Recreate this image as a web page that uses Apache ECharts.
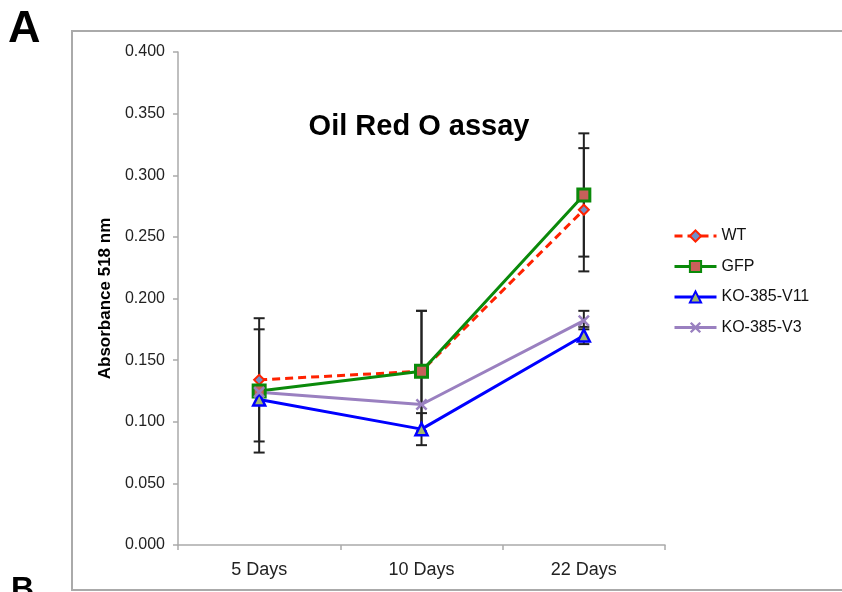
<!DOCTYPE html>
<html>
<head>
<meta charset="utf-8">
<script src="https://cdn.jsdelivr.net/npm/echarts@6/dist/echarts.min.js"></script>
<style>html,body{margin:0;padding:0;background:#fff;}#c{width:842px;height:592px;}</style>
</head>
<body>
<div id="c"></div>
<script>
var categories = ['5 Days', '10 Days', '22 Days'];
var seriesNames = ['WT', 'GFP', 'KO-385-V11', 'KO-385-V3'];
var wtValues = [0.134, 0.141, 0.272];
var gfpValues = [0.125, 0.141, 0.284];
var v11Values = [0.118, 0.094, 0.170];
var v3Values = [0.124, 0.114, 0.182];
// error bars: [categoryIndex, low, high]
var wtErr = [[0, 0.084, 0.184], [1, 0.092, 0.190], [2, 0.222, 0.322]];
var gfpErr = [[0, 0.075, 0.175], [1, 0.092, 0.190], [2, 0.234, 0.334]];
var v11Err = [[1, 0.081, 0.107], [2, 0.163, 0.177]];
var v3Err = [[2, 0.175, 0.190]];
var yTicks = [0, 0.05, 0.1, 0.15, 0.2, 0.25, 0.3, 0.35, 0.4];

var FONT = 'Liberation Sans, Arial, sans-serif';
var chart = echarts.init(document.getElementById('c'));

function errSeries(data) {
  return {
    type: 'custom',
    silent: true,
    z: 1,
    data: data,
    encode: {x: 0, y: [1, 2]},
    renderItem: function (params, api) {
      var x = api.value(0);
      var lo = api.coord([x, api.value(1)]);
      var hi = api.coord([x, api.value(2)]);
      var hw = 5.5;
      var st = {stroke: '#222', lineWidth: 2};
      return {
        type: 'group',
        children: [
          {type: 'line', shape: {x1: lo[0], y1: lo[1], x2: hi[0], y2: hi[1]}, style: st},
          {type: 'line', shape: {x1: lo[0] - hw, y1: lo[1], x2: lo[0] + hw, y2: lo[1]}, style: st},
          {type: 'line', shape: {x1: hi[0] - hw, y1: hi[1], x2: hi[0] + hw, y2: hi[1]}, style: st}
        ]
      };
    }
  };
}

var xPath = 'path://M0,1.5 L1.5,0 L5,3.5 L8.5,0 L10,1.5 L6.5,5 L10,8.5 L8.5,10 L5,6.5 L1.5,10 L0,8.5 L3.5,5 Z';

var option = {
  animation: false,
  backgroundColor: '#fff',
  title: {
    text: 'Oil Red O assay',
    left: 414, top: 107, textAlign: 'center',
    textStyle: {fontFamily: FONT, fontWeight: 'bold', fontSize: 29, color: '#000'}
  },
  legend: {
    orient: 'vertical',
    left: 668, top: 223,
    itemWidth: 42, itemHeight: 14, itemGap: 14.5,
    lineStyle: {width: 3},
    data: seriesNames,
    textStyle: {fontFamily: FONT, fontSize: 16, color: '#111'}
  },
  grid: {left: 178, right: 177, top: 52, bottom: 47, containLabel: false},
  xAxis: {
    type: 'category',
    data: categories,
    boundaryGap: true,
    axisLine: {lineStyle: {color: '#aaa', width: 1.5}},
    axisTick: {show: true, length: 5, lineStyle: {color: '#aaa', width: 1.5}},
    axisLabel: {fontFamily: FONT, fontSize: 18, color: '#222', margin: 16},
    splitLine: {show: false}
  },
  yAxis: {
    type: 'value',
    min: 0, max: 0.4, interval: 0.05,
    name: 'Absorbance 518 nm',
    nameLocation: 'middle', nameRotate: 90, nameGap: 56,
    nameTextStyle: {fontFamily: FONT, fontWeight: 'bold', fontSize: 17, color: '#000'},
    axisLine: {show: true, lineStyle: {color: '#aaa', width: 1.5}},
    axisTick: {show: true, length: 5, lineStyle: {color: '#aaa', width: 1.5}},
    axisLabel: {fontFamily: FONT, fontSize: 16, color: '#222', margin: 13,
      formatter: function (v) { return v.toFixed(3); }},
    splitLine: {show: false}
  },
  graphic: [
    {type: 'rect', shape: {x: 72, y: 31, width: 800, height: 559}, style: {fill: 'none', stroke: '#aaa', lineWidth: 2}, z: -10},
    {type: 'text', left: 8, top: 7, style: {text: 'A', font: 'bold 45px ' + FONT, fill: '#000'}},
    {type: 'text', left: 11, top: 574, style: {text: 'B', font: 'bold 32px ' + FONT, fill: '#000'}}
  ],
  series: [
    errSeries(wtErr), errSeries(gfpErr), errSeries(v11Err), errSeries(v3Err),
    {
      name: 'WT', type: 'line', data: wtValues, z: 3,
      symbol: 'diamond', symbolSize: 10,
      lineStyle: {color: '#ff2200', width: 3, type: [8, 5]},
      itemStyle: {color: '#6f8fc8', borderColor: '#ff2200', borderWidth: 2}
    },
    {
      name: 'GFP', type: 'line', data: gfpValues, z: 4,
      symbol: 'rect', symbolSize: 12,
      lineStyle: {color: '#0a8a0a', width: 3},
      itemStyle: {color: '#c8605a', borderColor: '#0a8a0a', borderWidth: 3}
    },
    {
      name: 'KO-385-V11', type: 'line', data: v11Values, z: 4,
      symbol: 'triangle', symbolSize: 12,
      lineStyle: {color: '#0000ff', width: 3},
      itemStyle: {color: '#a3b96a', borderColor: '#0000ff', borderWidth: 2.5}
    },
    {
      name: 'KO-385-V3', type: 'line', data: v3Values, z: 4,
      symbol: xPath, symbolSize: 12,
      lineStyle: {color: '#9a80c0', width: 3},
      itemStyle: {color: '#9a80c0', borderColor: '#9a80c0', borderWidth: 0}
    }
  ]
};
chart.setOption(option);
</script>
</body>
</html>
